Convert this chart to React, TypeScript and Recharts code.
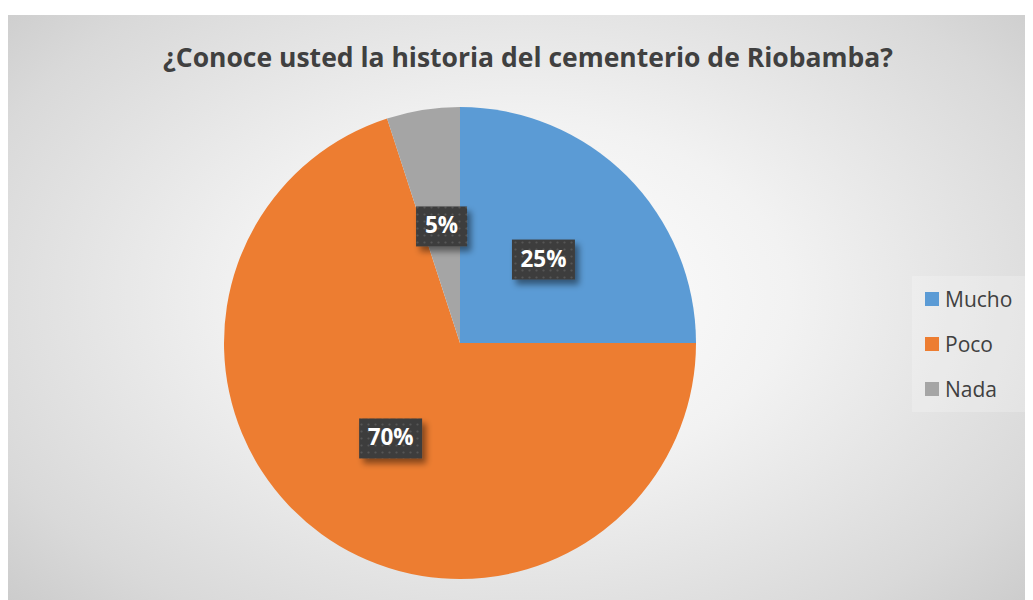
import React from "react";
import { PieChart, Pie, Cell, Legend } from "recharts";

const categories = ["Mucho", "Poco", "Nada"];
const shares = [25, 70, 5];
const colors = ["#5B9BD5", "#ED7D31", "#A5A5A5"];

const data = categories.map((name, i) => ({ name, value: shares[i] }));

const RAD = Math.PI / 180;

function renderLabel(props: any) {
  const { cx, cy, midAngle, outerRadius, percent } = props;
  const r = outerRadius * 0.5;
  const x = cx + r * Math.cos(-midAngle * RAD);
  const y = cy + r * Math.sin(-midAngle * RAD);
  const text = `${Math.round(percent * 100)}%`;
  const w = text.length > 2 ? 63 : 51;
  const h = 40;
  return (
    <g>
      <rect
        x={x - w / 2}
        y={y - h / 2}
        width={w}
        height={h}
        fill="url(#dots)"
        filter="url(#shadow)"
      />
      <text
        x={x}
        y={y + 1}
        fill="#ffffff"
        textAnchor="middle"
        dominantBaseline="middle"
        fontFamily="'Open Sans', sans-serif"
        fontWeight={700}
        fontSize={22.5}
      >
        {text}
      </text>
    </g>
  );
}

function renderLegend() {
  return (
    <div
      style={{
        width: 117,
        height: 136,
        background: "rgba(255,255,255,0.22)",
        boxSizing: "border-box",
        paddingTop: 0,
        paddingLeft: 13,
      }}
    >
      {data.map((d, i) => (
        <div
          key={d.name}
          style={{ display: "flex", alignItems: "center", height: 45 }}
        >
          <span
            style={{
              width: 14,
              height: 14,
              background: colors[i],
              display: "inline-block",
              marginRight: 6,
            }}
          />
          <span
            style={{
              fontFamily: "'Open Sans', sans-serif",
              fontSize: 21,
              color: "#404040",
            }}
          >
            {d.name}
          </span>
        </div>
      ))}
    </div>
  );
}

export default function App() {
  return (
    <div
      style={{
        position: "relative",
        width: 1025,
        height: 585,
        marginTop: 7,
        background:
          "radial-gradient(ellipse 75% 85% at 50% 48%, #ffffff 0%, #f2f2f2 35%, #d9d9d9 75%, #c4c4c4 100%)",
      }}
    >
      <div
        style={{
          position: "absolute",
          top: 24,
          left: 0,
          width: 1040,
          textAlign: "center",
          fontFamily: "'Open Sans', sans-serif",
          fontWeight: 700,
          fontSize: 26.5,
          color: "#404040",
        }}
      >
        ¿Conoce usted la historia del cementerio de Riobamba?
      </div>
      <PieChart width={1025} height={585} style={{ position: "absolute", top: 0, left: 0 }}>
        <defs>
          <pattern id="dots" width="7" height="7" patternUnits="userSpaceOnUse">
            <rect width="7" height="7" fill="#3d3d3d" />
            <circle cx="3.5" cy="3.5" r="1.1" fill="#575757" />
          </pattern>
          <filter id="shadow" x="-30%" y="-30%" width="170%" height="190%">
            <feDropShadow dx="4" dy="5" stdDeviation="3" floodColor="#000" floodOpacity="0.45" />
          </filter>
        </defs>
        <Pie
          data={data}
          dataKey="value"
          nameKey="name"
          cx={447}
          cy={323}
          outerRadius={236}
          startAngle={90}
          endAngle={-270}
          stroke="none"
          label={renderLabel}
          labelLine={false}
          isAnimationActive={false}
        >
          {data.map((d, i) => (
            <Cell key={d.name} fill={colors[i]} />
          ))}
        </Pie>
        <Legend
          content={renderLegend}
          wrapperStyle={{ left: 904, top: 261, width: 117, height: 136 }}
        />
      </PieChart>
    </div>
  );
}
